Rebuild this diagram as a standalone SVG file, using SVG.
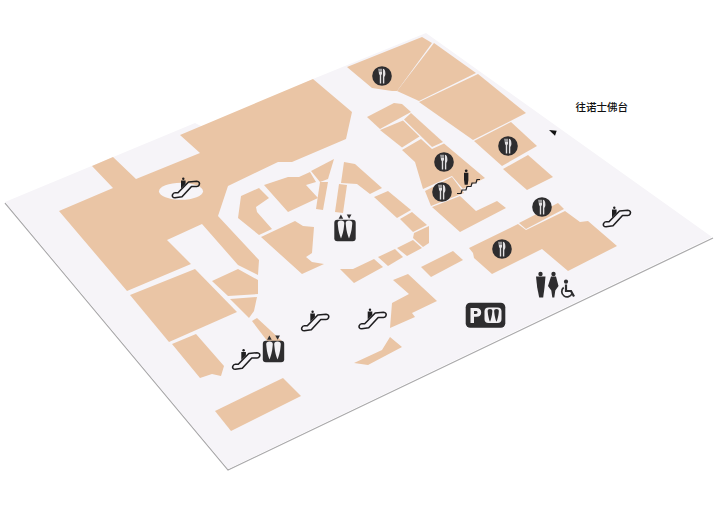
<svg xmlns="http://www.w3.org/2000/svg" width="716" height="531" viewBox="0 0 716 531">
<style>
.shop{fill:#eac5a5}
.d{fill:#2e2d2f}
.w{fill:#f6f4f8}
.esc{fill:none;stroke:#1f1e20;stroke-width:1.600;stroke-linejoin:round}
.gl{fill:#e2e0e2}
text{font-family:"Noto Sans CJK SC","Noto Sans CJK TC",sans-serif;font-size:10.500px;font-weight:500;fill:#111}
</style>
<defs>
<g id="fork">
<circle r="9.800" class="d"/>
<path class="gl" d="M-3.600 -7.200h.6v3.200h.4v-3.200h.6v3.200h.4v-3.200h.6v3.200h.4v-3.200h.6v5.200l-.8 1.300v8.200h-1.400v-8.200l-.8-1.300z"/>
<path class="gl" d="M.9 7.400V-7.200c1.500 0 2.500 2 2.500 4.800 0 1.700-.4 2.800-1.100 3.300v6.500z"/>
</g>
<g id="esc">
<path class="esc" d="M-11 4.800H-8L2.500 -6L10.800 -6.800C13 -6.800 14 -4.800 13.200 -3.200C12.600 -2 11.800 -1.500 10.800 -1.500H5.500L-4 8.800L-11 9.800C-13.200 9.800 -14.100 8.300 -13.500 6.800C-13 5.600 -12.200 4.800 -11 4.800Z"/>
<circle cx="-2.700" cy="-9.300" r="1.200" fill="#1f1e20"/>
<path d="M-5 -7.500h4.600v3.500l-4.600 4.600z" fill="#1f1e20"/>
</g>
<path id="car" d="M-3.300 -5.800a3.300 2.600 0 0 1 6.600 0l-.3 3c-.3 4-1.600 9-3 12.300c-1.400-3.300-2.700-8.300-3-12.300z"/>
<g id="lift">
<rect x="-10.700" y="-9.200" width="21.400" height="21.400" rx="3" class="d"/>
<use href="#car" x="-4" y="0" fill="#f1eff2"/>
<use href="#car" x="4" y="0" fill="#f1eff2"/>
<path d="M-6.400 -10.200l2.300 -4.300l2.300 4.300z" class="d"/>
<path d="M1.700 -14.500h4.800l-2.400 4.300z" class="d"/>
</g>
</defs>

<g id="floor">
<path d="M5 203L228 470L713 238" fill="none" stroke="#aaa9ab" stroke-width="1.200"/>
<path d="M5 202L195 123L205 128L313 79L426 33L712 237L228 469Z" class="w"/>
</g>

<g id="shops">
<path id="anchor" class="shop" d="M59 211L113 188L92 166L113 157L136 179L200 153L180 135L313 79L352 112L346 139L292 162L278 162L228 186L218 216L259 260L258 275L238 265L202 224L167 240L191 264L127 291Z"/>
<path class="shop" d="M130 295L195 269L237 312L169 342Z"/>
<path class="shop" d="M172 344L196 334L224 366L221 376L212 374L200 378Z"/>
<path class="shop" d="M212 281L238 269L258 280L258 294L228 296Z"/>
<path class="shop" d="M230 299L257 297L254 311L249 318Z"/>
<path class="shop" d="M252 321L257 318L283 342L268 342Z"/>
<path class="shop" d="M215 411L283 378L301 396L231 431Z"/>
<path class="shop" d="M241 196L259 188L269 198L256 207L257 212L272 229L259 235L238 218Z"/>
<path class="shop" d="M264 185L288 177L299 177L310 172L316 182L306 185L318 198L288 212Z"/>
<path class="shop" d="M311 171L334 159L328 179L320 182Z"/>
<path class="shop" d="M320 182L328 182L323 210L316 209Z"/>
<path class="shop" d="M344 162L355 164L382 188L370 194L357 184L341 183Z"/>
<path class="shop" d="M339 184L347 185L343 213L335 212Z"/>
<path class="shop" d="M374 197L388 191L411 210L397 218Z"/>
<path class="shop" d="M400 219L412 212L427 225L413 232Z"/>
<path class="shop" d="M414 233L429 226L429 243L423 247L413 238Z"/>
<path class="shop" d="M397 248L413 240L422 248L407 256Z"/>
<path class="shop" d="M378 257L395 249L403 257L388 266Z"/>
<path class="shop" d="M340 269L353 269L374 259L383 267L354 283Z"/>
<path class="shop" d="M261 237L295 221L303 226L314 227L312 253L306 257L312 262L324 264L302 274Z"/>
<path class="shop" d="M393 280L408 274L437 301L412 313L415 317L390 328L392 303L409 294Z"/>
<path class="shop" d="M354 363L382 350L390 337L402 347L368 365Z"/>
<path class="shop" d="M347 67L422 37L432 43L397 91L392 91L372 88Z"/>
<path class="shop" d="M434 43L476 73L419 101L397 91Z"/>
<path class="shop" d="M478 74L526 113L473 140L419 102Z"/>
<path class="shop" d="M511 122L537 146L502 166L474 141Z"/>
<path class="shop" d="M528 155L553 177L527 190L503 169Z"/>
<path class="shop" d="M367 117L394 103L402 104L411 112L380 129Z"/>
<path class="shop" d="M380 130L403 120.500L419.500 136.500L402 147.500Z"/>
<path class="shop" d="M404 119.500L411 113L443 142L432 147Z"/>
<path class="shop" d="M402 150L421 139L432 149L444 143.500L485 178L463 189L452 176L423 189L415 162Z"/>
<path class="shop" d="M425 191L452 177L464 193L431 206Z"/>
<path class="shop" d="M432 207L460 196L476 211L497 201L506 208L460 232Z"/>
<path class="shop" d="M519 223L558 203L564 209L526 229Z"/>
<path class="shop" d="M469 248L518 224L526 230L565 211L580 222L588 221L617 246L568 271L542 249L492 274L474 258L473 253Z"/>
<path class="shop" d="M421 267L453 251L463 260L431 277Z"/>
</g>

<g id="escalator-1"><ellipse cx="181" cy="191.300" rx="22" ry="8.500" class="w"/><use href="#esc" x="186" y="188"/></g>
<g id="escalator-2"><use href="#esc" x="315.300" y="321"/></g>
<g id="escalator-3"><use href="#esc" x="372.700" y="319"/></g>
<g id="escalator-4"><use href="#esc" x="246.300" y="359.500"/></g>
<g id="escalator-5"><use href="#esc" x="617" y="217"/></g>

<g id="lift-1"><use href="#lift" x="345" y="229"/></g>
<g id="lift-2"><use href="#lift" x="273.500" y="350"/></g>

<g id="food-1"><use href="#fork" x="382" y="76"/></g>
<g id="food-2"><use href="#fork" x="444" y="162"/></g>
<g id="food-3"><use href="#fork" x="442" y="192"/></g>
<g id="food-4"><use href="#fork" x="508" y="146"/></g>
<g id="food-5"><use href="#fork" x="542" y="207"/></g>
<g id="food-6"><use href="#fork" x="502" y="249"/></g>

<g id="stairs">
<path d="M457 193.500h4l1-3.500h4l1-3.500h4l1-3.500h4l1-3.500h3" fill="none" stroke="#1f1e20" stroke-width="1.200"/>
<circle cx="466.200" cy="170.800" r="1.400" fill="#1f1e20"/>
<path d="M464 172.800h4.400v7l-.7 5h-3l-.7-5z" fill="#1f1e20"/>
</g>

<g id="parking">
<rect x="465.700" y="302.700" width="39.600" height="25" rx="4.500" class="d"/>
<path fill-rule="evenodd" d="M470.500 308h6c3 0 4.700 1.600 4.700 4.400s-1.700 4.400-4.700 4.400h-2.500v6.200h-3.500zM474 311v2.900h2c1 0 1.600-.5 1.600-1.400s-.6-1.500-1.600-1.500z" fill="#f1eff2"/>
<rect x="484.500" y="307.500" width="17" height="15.500" rx="4" fill="#f1eff2"/>
<use href="#car" transform="translate(490 315) scale(.72 .72)" class="d"/>
<use href="#car" transform="translate(496.500 315) scale(.72 .72)" class="d"/>
</g>

<g id="toilets">
<circle cx="540.500" cy="274" r="2.200" class="d"/>
<path d="M536 276.500h9.500l-1 11l-1.300 10h-4l-2-10z" class="d"/>
<circle cx="553.500" cy="274" r="2.200" class="d"/>
<path d="M551 276.500h5l2.500 9.500l-3.200 4.500l-1 7h-2l-1-7l-3.300-4.500z" class="d"/>
<circle cx="566" cy="281.700" r="2.100" class="d"/>
<path d="M566 284.500v6.500h5l3 5.500" fill="none" stroke="#2e2d2f" stroke-width="2.200"/>
<path d="M563.700 287.500a5.300 5.300 0 1 0 8.300 6" fill="none" stroke="#2e2d2f" stroke-width="1.700"/>
</g>

<g id="label">
<text x="575.500" y="111">往诺士佛台</text>
<path d="M549 130L556.700 130.700L555 135.700Z" fill="#111"/>
</g>
</svg>
